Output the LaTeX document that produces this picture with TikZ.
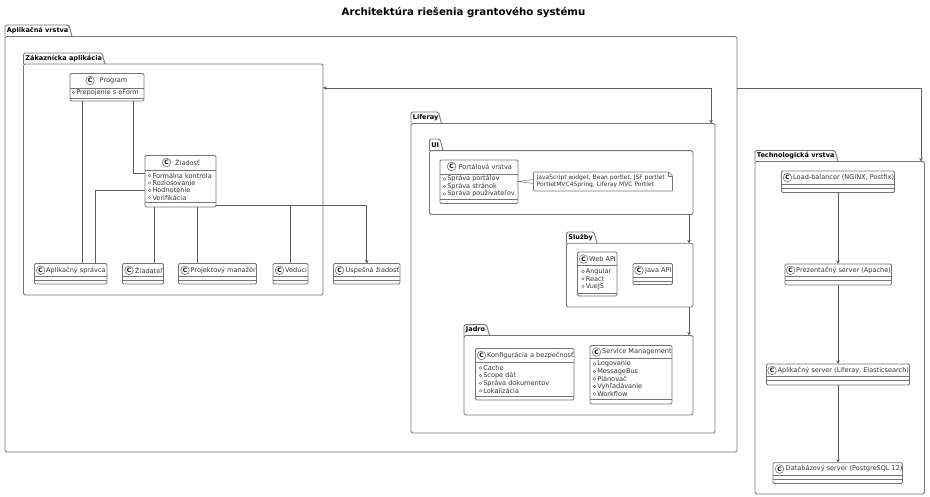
\documentclass[tikz,border=0pt]{standalone}
\usepackage{fontspec}
\setmainfont{DejaVu Sans}
\usetikzlibrary{arrows.meta,calc}
\definecolor{ln}{gray}{0.36}
\definecolor{fr}{gray}{0.46}
\definecolor{tx}{gray}{0.2}
\tikzset{
  x=1pt,y=-1pt,
  pkgbox/.style={draw=fr,line width=0.9pt,rounded corners=1.5pt,inner sep=0,outer sep=0,anchor=center},
  clsbox/.style={draw=fr,fill=white,line width=0.8pt,rounded corners=1.2pt,inner sep=0,outer sep=0,anchor=center},
  pkglabel/.style={anchor=west,inner sep=0,text=black,font=\fontsize{6.55}{7}\selectfont\bfseries},
  clslabel/.style={anchor=west,inner sep=0,text=tx,font=\fontsize{6.55}{7}\selectfont},
  memlabel/.style={anchor=west,inner sep=0,text=tx,font=\fontsize{6.55}{7}\selectfont},
  conn/.style={draw=ln,line width=0.75pt},
  arr/.style={conn,-{Stealth[length=3.5pt,width=3.5pt]}},
  darr/.style={conn,{Stealth[length=3.5pt,width=3.5pt]}-{Stealth[length=3.5pt,width=3.5pt]}},
  rowline/.style={draw=fr,line width=0.65pt},
}
% name, left, tab top, tab right, body top, right, bottom, label
\newcommand{\pkgframe}[8]{%
  \pgfmathsetmacro{\pw}{#6-#2}\pgfmathsetmacro{\ph}{#7-#5}%
  \pgfmathsetmacro{\pcx}{(#2+#6)/2}\pgfmathsetmacro{\pcy}{(#5+#7)/2}%
  \pgfmathsetmacro{\ptx}{#4-3}\pgfmathsetmacro{\pty}{(#3+#5)/2}\pgfmathsetmacro{\plx}{#2+1.7}%
  \draw[draw=fr,line width=0.9pt,rounded corners=1.5pt] (#2,#5) -- (#2,#3) -- (\ptx,#3) -- (#4,#5);%
  \node[pkgbox,minimum width=\pw pt,minimum height=\ph pt] (#1) at (\pcx,\pcy) {};%
  \node[pkglabel] (#1-label) at (\plx,\pty) {#8};%
}
% name, x1, y1, x2, y2, divider 1, divider 2
\newcommand{\clsframe}[7]{%
  \pgfmathsetmacro{\pw}{#4-#2}\pgfmathsetmacro{\ph}{#5-#3}%
  \pgfmathsetmacro{\pcx}{(#2+#4)/2}\pgfmathsetmacro{\pcy}{(#3+#5)/2}%
  \node[clsbox,minimum width=\pw pt,minimum height=\ph pt] (#1) at (\pcx,\pcy) {};%
  \draw[rowline] (#2,#6) -- (#4,#6) (#2,#7) -- (#4,#7);%
}
% name, circle x, title y, text x, title
\newcommand{\clstitle}[5]{%
  \node[draw=fr,fill=white,line width=0.6pt,circle,minimum size=8.6pt,inner sep=0,text=black,font=\fontsize{6}{6}\selectfont\bfseries] (#1-c) at (#2,#3) {C};%
  \node[clslabel] (#1-t) at (#4,#3) {#5};%
}
% name, bullet x, first y, pitch, items
\newcommand{\clsmembers}[5]{%
  \foreach \mt [count=\mi from 0] in {#5} {%
    \pgfmathsetmacro{\my}{#3+\mi*#4}\pgfmathsetmacro{\mx}{#2+2.6}%
    \draw[draw=ln,line width=0.35pt] (#2,\my) circle (1.3pt);%
    \node[memlabel] (#1-m\mi) at (\mx,\my) {\mt};%
  }%
}
\begin{document}
\begin{tikzpicture}
\useasboundingbox (0,0) rectangle (930,497);
\node[anchor=center,inner sep=0,text=black,font=\fontsize{10.2}{12}\selectfont\bfseries] (title) at (463.5,13) {Architektúra riešenia grantového systému};

\pkgframe{app}{5}{25}{72}{36.5}{737}{452}{Aplikačná vrstva}
\pkgframe{zak}{23.5}{53}{105}{64}{323}{295}{Zákaznícka aplikácia}
\pkgframe{lif}{411}{112}{441.5}{123.5}{715}{433}{Liferay}
\pkgframe{ui}{429.5}{139}{443}{150.7}{693}{214.5}{UI}
\pkgframe{slu}{566.5}{232}{597}{243.3}{693}{307}{Služby}
\pkgframe{jad}{464}{324.7}{489.5}{335.5}{693}{415}{Jadro}
\pkgframe{tech}{755}{150.5}{838}{161.5}{924.5}{494}{Technologická vrstva}

% classes
\clsframe{prog}{70}{73.5}{144}{101}{88}{98.7}
\clstitle{prog}{90}{80.5}{99.5}{Program}
\clsmembers{prog}{73.5}{92.7}{7.3}{Prepojenie s eForm}

\clsframe{ziad}{145}{155.5}{216}{207}{170}{202.5}
\clstitle{ziad}{166.5}{162.5}{175}{Žiadosť}
\clsmembers{ziad}{149.7}{175.7}{7.3}{Formálna kontrola,Rozlosovanie,Hodnotenie,Verifikácia}

\clsframe{spr}{34.5}{263.5}{107}{284}{276.7}{280}
\clstitle{spr}{40.7}{270.3}{46}{Aplikačný správca}
\clsframe{zad}{122.5}{263.5}{163.5}{284}{276.7}{280}
\clstitle{zad}{129}{270.3}{135}{Žiadateľ}
\clsframe{man}{178.5}{263.5}{256.5}{284}{276.7}{280}
\clstitle{man}{185}{270.3}{190.5}{Projektový manažér}
\clsframe{ved}{273}{263.5}{308}{284}{276.7}{280}
\clstitle{ved}{279.5}{270.3}{285}{Vedúci}
\clsframe{usp}{333.5}{263.5}{400}{284}{276.7}{280}
\clstitle{usp}{339.5}{270.3}{345.5}{Úspešná žiadosť}

\clsframe{port}{440}{160}{518}{203.5}{174}{199.7}
\clstitle{port}{451.5}{166.5}{458.5}{Portálová vrstva}
\clsmembers{port}{444.5}{179}{7.5}{Správa portálov,Správa stránok,Správa používateľov}

\clsframe{web}{577.5}{252}{617}{296}{265}{293}
\clstitle{web}{583.5}{259}{589}{Web API}
\clsmembers{web}{583}{271.5}{7.4}{Angular,React,VueJS}
\clsframe{java}{633}{263.5}{672.5}{284.5}{277.7}{281}
\clstitle{java}{639}{270.3}{645}{Java API}

\clsframe{konf}{475.5}{348.5}{574}{400}{362.5}{396.3}
\clstitle{konf}{481.5}{355.5}{487}{Konfigurácia a bezpečnosť}
\clsmembers{konf}{480.5}{368}{7.6}{Cache,Scope dát,Správa dokumentov,Lokalizácia}
\clsframe{serv}{590}{345.5}{672}{404}{358.5}{399.5}
\clstitle{serv}{596.5}{352}{602}{Service Management}
\clsmembers{serv}{594.5}{364}{7.5}{Logovanie,MessageBus,Plánovač,Vyhľadávanie,Workflow}

\clsframe{lb}{781.5}{171}{894.5}{192.5}{184}{188}
\clstitle{lb}{787.5}{177.7}{793}{Load-balancer (NGINX, Postfix)}
\clsframe{prez}{785}{264}{891.5}{285}{276.5}{280}
\clstitle{prez}{790.5}{270.3}{796}{Prezentačný server (Apache)}
\clsframe{aps}{766.5}{364}{909.5}{385}{376.7}{380}
\clstitle{aps}{772}{370.5}{777.5}{Aplikačný server (Liferay, Elasticsearch)}
\clsframe{db}{773}{462.7}{902.5}{483.5}{475}{479}
\clstitle{db}{779.5}{469}{785.5}{Databázový server (PostgreSQL 12)}

% connectors
\draw[conn] (82,0 |- prog.south) -- (82,0 |- spr.north);
\draw[conn] (133.5,0 |- prog.south) |- (ziad.west |- 0,173.5);
\draw[conn] (ziad.west |- 0,190) -| (95,0 |- spr.north);
\draw[conn] (154,0 |- ziad.south) -- (154,0 |- zad.north);
\draw[conn] (197,0 |- ziad.south) -- (197,0 |- man.north);
\draw[conn] (ziad.east |- 0,205.5) -| (290.5,0 |- ved.north);
\draw[arr] (ziad.east |- 0,205.5) -| (usp.north);
\draw[darr] (zak.east |- 0,88) -| (711,0 |- lif.north);
\draw[arr] (app.east |- 0,88) -| (921,0 |- tech.north);
\draw[arr] (689,0 |- ui.south) -- (689,0 |- slu.north);
\draw[arr] (689,0 |- slu.south) -- (689,0 |- jad.north);
\draw[arr] (838,0 |- lb.south) -- (838,0 |- prez.north);
\draw[arr] (838,0 |- prez.south) -- (838,0 |- aps.north);
\draw[arr] (838,0 |- aps.south) -- (838,0 |- db.north);

% note
\node[inner sep=0,outer sep=0,minimum width=139pt,minimum height=19pt] (note) at (603,181.5) {};
\draw[draw=fr,line width=0.6pt,fill=white,rounded corners=0.5pt] (note.north west) -- ($(note.north east)+(-4,0)$) -- ($(note.north east)+(0,4)$) -- (note.south east) -- (note.south west) -- cycle;
\draw[draw=fr,line width=0.5pt] ($(note.north east)+(-4,0)$) -- ($(note.north east)+(-4,4)$) -- ($(note.north east)+(0,4)$);
\node[memlabel,align=left,font=\fontsize{6}{7.2}\selectfont] (notetext) at (536.5,181.5) {JavaScript widget, Bean portlet, JSF portlet\\PortletMVC4Spring, Liferay MVC Portlet};
\draw[draw=fr,line width=0.5pt] ($(note.west)+(0,-2)$) -- (port.east |- note.west) -- ($(note.west)+(0,2)$);
\end{tikzpicture}
\end{document}
